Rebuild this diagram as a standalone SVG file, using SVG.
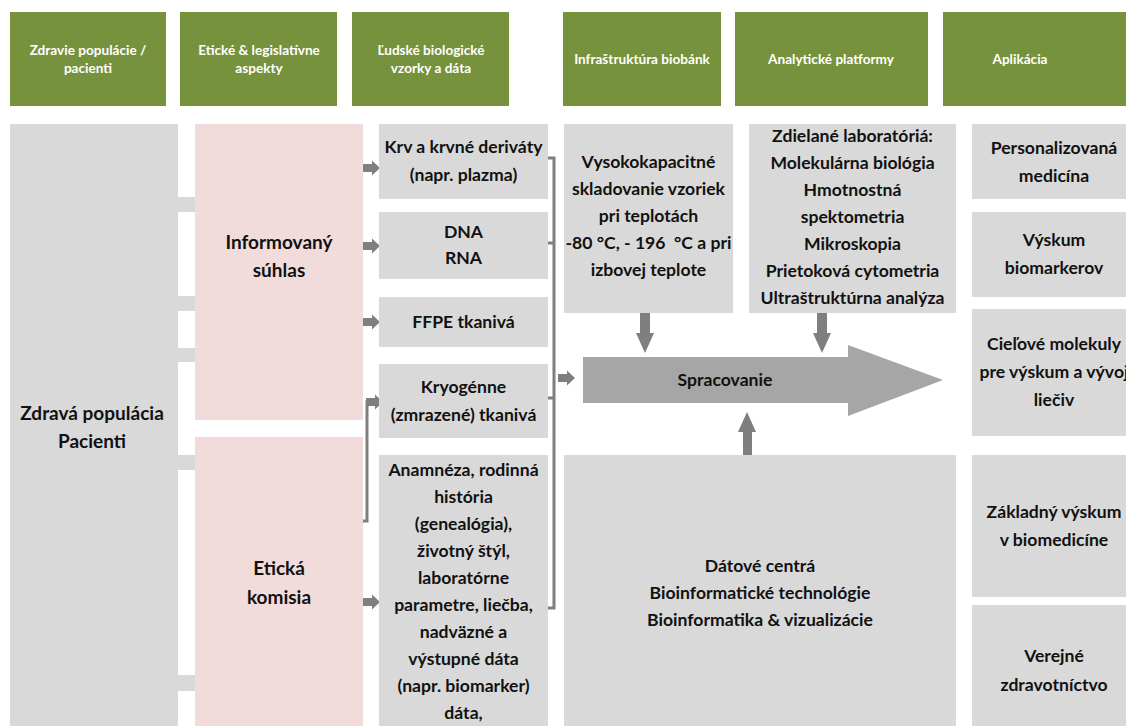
<svg xmlns="http://www.w3.org/2000/svg" width="1126" height="726" viewBox="0 0 1126 726">
  <style>
    .hdr { fill: #76923c; }
    .hdrt { fill: #ffffff; font-family: "Lato", "Liberation Sans", sans-serif; font-weight: bold; font-size: 13.6px; text-anchor: middle; }
    .box { fill: #d9d9d9; }
    .pink { fill: #f2dcdb; }
    .t { fill: #111111; font-family: "Lato", "Liberation Sans", sans-serif; font-weight: bold; font-size: 17.6px; text-anchor: middle; }
    .tl { fill: #111111; font-family: "Lato", "Liberation Sans", sans-serif; font-weight: bold; font-size: 19px; text-anchor: middle; }
    .band { fill: #d9d9d9; }
    .ln { fill: none; stroke: #7f7f7f; stroke-width: 3; }
    .arr { fill: #7f7f7f; }
    .big { fill: #a6a6a6; }
  </style>
  <defs>
    <path id="sa" d="M0,-4 L9,-4 L9,-7.5 L17,0 L9,7.5 L9,4 L0,4 Z"/>
  </defs>
  <rect width="1126" height="726" fill="#ffffff"/>

  <g id="header-1"><rect class="hdr" x="10" y="12" width="156" height="94"/><text class="hdrt" x="88" y="55">Zdravie populácie /</text><text class="hdrt" x="88" y="73">pacienti</text></g>
  <g id="header-2"><rect class="hdr" x="180" y="12" width="157" height="94"/><text class="hdrt" x="259" y="55">Etické &amp; legislatívne</text><text class="hdrt" x="259" y="73">aspekty</text></g>
  <g id="header-3"><rect class="hdr" x="352" y="12" width="157" height="94"/><text class="hdrt" x="431" y="55">Ľudské biologické</text><text class="hdrt" x="431" y="73">vzorky a dáta</text></g>
  <g id="header-4"><rect class="hdr" x="563" y="12" width="158" height="94"/><text class="hdrt" x="642" y="64">Infraštruktúra biobánk</text></g>
  <g id="header-5"><rect class="hdr" x="735" y="12" width="193" height="94"/><text class="hdrt" x="831" y="64">Analytické platformy</text></g>
  <g id="header-6"><rect class="hdr" x="943" y="12" width="200" height="94"/><text class="hdrt" x="1020" y="64">Aplikácia</text></g>

  <g id="connectors">
    <rect class="band" x="176" y="197" width="21" height="15"/>
    <rect class="band" x="176" y="296" width="21" height="15"/>
    <rect class="band" x="176" y="348" width="21" height="14"/>
    <rect class="band" x="176" y="455" width="21" height="15"/>
    <rect class="band" x="176" y="675" width="21" height="16"/>
    <use href="#sa" class="arr" x="363" y="168"/>
    <use href="#sa" class="arr" x="363" y="246"/>
    <use href="#sa" class="arr" x="363" y="322"/>
    <use href="#sa" class="arr" x="363" y="602"/>
    <polyline class="ln" points="363,521 367,521 367,402 370,402"/>
    <use href="#sa" class="arr" x="366" y="402"/>
    <polyline class="ln" points="548,158 554,158 554,608 548,608"/>
    <line class="ln" x1="548" y1="243" x2="554" y2="243"/>
    <line class="ln" x1="548" y1="398" x2="554" y2="398"/>
    <use href="#sa" class="arr" x="558" y="378"/>
    <path class="arr" d="M640,313 L650,313 L650,333 L654,333 L645,353 L636,333 L640,333 Z"/>
    <path class="arr" d="M817,313 L827,313 L827,333 L831,333 L822,353 L813,333 L817,333 Z"/>
    <path class="arr" d="M743,455 L752,455 L752,432 L756,432 L747,412 L738,432 L743,432 Z"/>
  </g>

  <g id="n-population"><rect class="box" x="10" y="124" width="168" height="602"/><text class="tl" x="92" y="420">Zdravá populácia</text><text class="tl" x="92" y="448">Pacienti</text></g>
  <g id="n-consent"><rect class="pink" x="195" y="124" width="168" height="296"/><text class="tl" x="279" y="249">Informovaný</text><text class="tl" x="279" y="277">súhlas</text></g>
  <g id="n-ethics"><rect class="pink" x="195" y="437" width="168" height="289"/><text class="tl" x="279" y="575">Etická</text><text class="tl" x="279" y="604">komisia</text></g>

  <g id="n-blood"><rect class="box" x="379" y="124" width="169" height="75"/><text class="t" x="463.5" y="153">Krv a krvné deriváty</text><text class="t" x="463.5" y="181">(napr. plazma)</text></g>
  <g id="n-dna"><rect class="box" x="379" y="212" width="169" height="67"/><text class="t" x="463.5" y="238">DNA</text><text class="t" x="463.5" y="264">RNA</text></g>
  <g id="n-ffpe"><rect class="box" x="379" y="297" width="169" height="50"/><text class="t" x="463.5" y="328">FFPE tkanivá</text></g>
  <g id="n-cryo"><rect class="box" x="379" y="364" width="169" height="74"/><text class="t" x="463.5" y="393">Kryogénne</text><text class="t" x="463.5" y="421">(zmrazené) tkanivá</text></g>
  <g id="n-anamnesis"><rect class="box" x="379" y="455" width="169" height="271"/>
    <text class="t" x="463.5" y="476">Anamnéza, rodinná</text>
    <text class="t" x="463.5" y="503">história</text>
    <text class="t" x="463.5" y="530">(genealógia),</text>
    <text class="t" x="463.5" y="557">životný štýl,</text>
    <text class="t" x="463.5" y="584">laboratórne</text>
    <text class="t" x="463.5" y="611">parametre, liečba,</text>
    <text class="t" x="463.5" y="638">nadväzné a</text>
    <text class="t" x="463.5" y="665">výstupné dáta</text>
    <text class="t" x="463.5" y="692">(napr. biomarker)</text>
    <text class="t" x="463.5" y="719">dáta,</text>
  </g>

  <g id="n-storage"><rect class="box" x="564" y="124" width="169" height="189"/>
    <text class="t" x="648.5" y="168">Vysokokapacitné</text>
    <text class="t" x="648.5" y="195">skladovanie vzoriek</text>
    <text class="t" x="648.5" y="222">pri teplotách</text>
    <text class="t" x="648.5" y="249" xml:space="preserve">-80 °C, - 196  °C a pri</text>
    <text class="t" x="648.5" y="276">izbovej teplote</text>
  </g>
  <g id="n-labs"><rect class="box" x="749" y="124" width="207" height="189"/>
    <text class="t" x="852.5" y="142">Zdielané laboratóriá:</text>
    <text class="t" x="852.5" y="169">Molekulárna biológia</text>
    <text class="t" x="852.5" y="196">Hmotnostná</text>
    <text class="t" x="852.5" y="223">spektometria</text>
    <text class="t" x="852.5" y="250">Mikroskopia</text>
    <text class="t" x="852.5" y="277">Prietoková cytometria</text>
    <text class="t" x="852.5" y="304">Ultraštruktúrna analýza</text>
  </g>
  <g id="n-processing"><polygon class="big" points="583,357 848,357 848,345 943,380 848,416 848,403 583,403"/><text class="t" x="725" y="386">Spracovanie</text></g>
  <g id="n-data"><rect class="box" x="564" y="455" width="392" height="271"/>
    <text class="t" x="760" y="572">Dátové centrá</text>
    <text class="t" x="760" y="599">Bioinformatické technológie</text>
    <text class="t" x="760" y="626">Bioinformatika &amp; vizualizácie</text>
  </g>

  <g id="n-personalized"><rect class="box" x="972" y="124" width="170" height="75"/><text class="t" x="1054" y="154">Personalizovaná</text><text class="t" x="1054" y="182">medicína</text></g>
  <g id="n-biomarkers"><rect class="box" x="972" y="212" width="170" height="85"/><text class="t" x="1054" y="246">Výskum</text><text class="t" x="1054" y="274">biomarkerov</text></g>
  <g id="n-targets"><rect class="box" x="972" y="309" width="170" height="127"/><text class="t" x="1054" y="350">Cieľové molekuly</text><text class="t" x="1054" y="378">pre výskum a vývoj</text><text class="t" x="1054" y="406">liečiv</text></g>
  <g id="n-basic"><rect class="box" x="972" y="455" width="170" height="142"/><text class="t" x="1054" y="518">Základný výskum</text><text class="t" x="1054" y="546">v biomedicíne</text></g>
  <g id="n-public"><rect class="box" x="972" y="605" width="170" height="121"/><text class="t" x="1054" y="662">Verejné</text><text class="t" x="1054" y="691">zdravotníctvo</text></g>
</svg>
